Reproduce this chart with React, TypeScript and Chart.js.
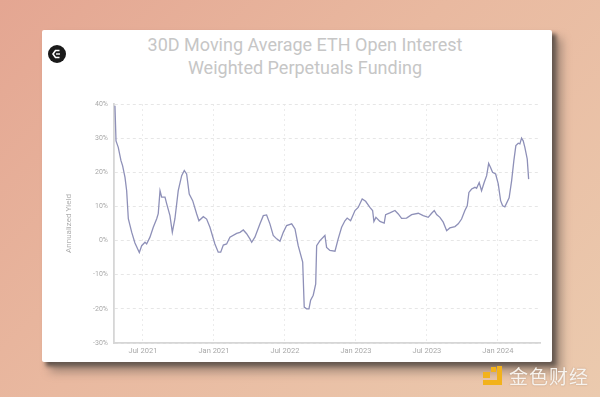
import React, { useEffect, useRef } from "react";
import { Chart, registerables } from "chart.js";

Chart.register(...registerables);

// months since Jan 2021 (decimal)
const months = [3.63, 3.72, 3.91, 4.14, 4.28, 4.48, 4.62, 4.76, 5.05, 5.32, 5.69, 5.89, 6.17, 6.31, 6.59, 6.87, 7.16, 7.29, 7.44, 7.58, 7.86, 8.0, 8.28, 8.48, 8.7, 8.98, 9.27, 9.49, 9.69, 9.91, 10.2, 10.54, 10.73, 11.1, 11.38, 11.66, 12.08, 12.36, 12.57, 12.79, 13.07, 13.35, 13.92, 14.2, 14.48, 14.76, 15.04, 15.19, 15.46, 15.89, 16.17, 16.45, 16.73, 17.01, 17.3, 17.58, 17.86, 18.14, 18.57, 18.85, 19.12, 19.5, 19.63, 19.83, 20.03, 20.17, 20.39, 20.6, 20.68, 20.96, 21.38, 21.52, 21.8, 22.23, 22.5, 22.79, 23.07, 23.26, 23.55, 23.92, 24.19, 24.53, 24.82, 25.18, 25.41, 25.52, 25.69, 26.03, 26.39, 26.51, 26.87, 27.3, 27.58, 27.86, 28.28, 28.71, 29.27, 29.69, 30.11, 30.4, 30.62, 30.82, 31.1, 31.38, 31.67, 31.94, 32.37, 32.65, 32.93, 33.21, 33.41, 33.55, 33.78, 34.06, 34.2, 34.42, 34.62, 34.84, 35.05, 35.22, 35.38, 35.55, 35.81, 36.03, 36.23, 36.4, 36.59, 36.95, 37.16, 37.35, 37.52, 37.72, 37.86, 38.0, 38.14, 38.28, 38.48, 38.6];

const funding = [39.5, 29.2, 27.3, 23.4, 21.9, 18.5, 14.6, 6.4, 2.4, -0.7, -3.5, -1.5, -0.5, -1.0, 1.0, 3.9, 6.4, 7.9, 14.6, 12.7, 12.7, 10.8, 7.3, 2.4, 6.4, 14.6, 19.0, 20.5, 19.5, 13.6, 11.7, 7.8, 5.8, 7.0, 6.3, 3.9, -1.0, -3.4, -3.4, -1.3, -1.0, 1.0, 2.1, 2.4, 3.1, 2.0, 0.5, -0.5, 1.0, 4.9, 7.3, 7.5, 4.9, 1.5, 0.5, -0.2, 2.4, 4.4, 4.9, 3.4, -1.5, -6.3, -19.5, -20.0, -20.0, -17.5, -16.0, -12.7, -1.5, 0.0, 1.5, -2.0, -2.9, -3.1, 0.5, 3.9, 5.8, 6.6, 5.8, 8.8, 9.7, 12.2, 11.5, 9.7, 8.8, 5.6, 6.8, 5.6, 5.1, 7.6, 8.1, 8.8, 7.8, 6.5, 6.6, 7.6, 8.0, 7.3, 6.8, 8.0, 8.8, 7.6, 6.8, 5.4, 2.9, 3.7, 4.1, 4.9, 6.3, 8.8, 10.2, 14.1, 15.1, 15.6, 15.3, 17.0, 14.6, 17.0, 19.0, 22.6, 21.4, 20.0, 19.5, 16.6, 11.7, 10.2, 9.9, 12.5, 17.5, 23.4, 27.8, 28.5, 28.3, 30.0, 29.2, 27.3, 23.9, 18.0];

const xTickMonths = [6, 12, 18, 24, 30, 36];
const xTickLabels = ["Jul 2021", "Jan 2021", "Jul 2022", "Jan 2023", "Jul 2023", "Jan 2024"];
const yTicks = [-30, -20, -10, 0, 10, 20, 30, 40];

const titleLines = ["30D Moving Average ETH Open Interest", "Weighted Perpetuals Funding"];
const yAxisTitle = "Annualized Yield";
const watermark = "金色财经";

export default function App() {
  const ref = useRef<HTMLCanvasElement | null>(null);

  useEffect(() => {
    if (!ref.current) return;
    const chart = new Chart(ref.current, {
      type: "line",
      data: {
        datasets: [
          {
            data: months.map((m, i) => ({ x: m, y: funding[i] })),
            borderColor: "#8e90b8",
            borderWidth: 1.3,
            pointRadius: 0,
            tension: 0,
            fill: false,
          },
        ],
      },
      options: {
        animation: false,
        responsive: false,
        devicePixelRatio: 1,
        layout: { padding: { left: 58, right: 60, top: 104, bottom: 34 } },
        plugins: { legend: { display: false }, tooltip: { enabled: false } },
        scales: {
          x: {
            type: "linear",
            min: 3.55,
            max: 39.56,
            afterBuildTicks: (scale: any) => {
              scale.ticks = xTickMonths.map((v) => ({ value: v }));
            },
            afterFit: (scale: any) => {
              scale.height = 20;
            },
            ticks: {
              autoSkip: false,
              maxRotation: 0,
              padding: 4,
              color: "#a9a9a9",
              font: { family: "Roboto", size: 7.5 },
              callback: (_v: any, i: number) => xTickLabels[i],
            },
            grid: { color: "#ececec", lineWidth: 1, drawTicks: false },
            border: { display: true, color: "#d6d6d6", width: 1.8, dash: [2, 3] },
          },
          y: {
            min: -30,
            max: 40,
            afterBuildTicks: (scale: any) => {
              scale.ticks = yTicks.map((v) => ({ value: v }));
            },
            afterFit: (scale: any) => {
              scale.width = 56;
            },
            ticks: {
              padding: 6,
              color: "#a9a9a9",
              font: { family: "Roboto", size: 7 },
              callback: (v: any) => v + "%",
            },
            title: {
              display: true,
              text: yAxisTitle,
              color: "#b0b0b0",
              padding: { top: 6, bottom: 0 },
              font: { family: "Roboto", size: 8 },
            },
            grid: { color: "#e6e6e6", lineWidth: 1, drawTicks: false },
            border: { display: true, color: "#d6d6d6", width: 1.8, dash: [3, 3] },
          },
        },
      },
    });
    return () => chart.destroy();
  }, []);

  return (
    <div
      style={{
        position: "fixed",
        left: 0,
        top: 0,
        width: 600,
        height: 397,
        overflow: "hidden",
        background: "linear-gradient(135deg, #e4a692 0%, #e9b9a0 45%, #ebcaae 100%)",
        fontFamily: "Roboto, sans-serif",
      }}
    >
      <div
        style={{
          position: "absolute",
          left: 46,
          top: 34,
          width: 510,
          height: 332,
          background: "#5a4d45",
          filter: "blur(2px)",
        }}
      />
      <div
        style={{
          position: "absolute",
          left: 50,
          top: 38,
          width: 512,
          height: 334,
          background: "rgba(110,95,85,0.55)",
          filter: "blur(5px)",
        }}
      />
      <div
        style={{
          position: "absolute",
          left: 42,
          top: 30,
          width: 510,
          height: 332,
          background: "#ffffff",
          borderRadius: 2,
        }}
      />
      <div
        style={{
          position: "absolute",
          left: 0,
          top: 33,
          width: 610,
          textAlign: "center",
          color: "#c6c6c6",
          fontSize: 18,
          lineHeight: "23px",
          fontFamily: "Roboto",
        }}
      >
        {titleLines.map((t) => (
          <div key={t}>{t}</div>
        ))}
      </div>
      <div
        style={{
          position: "absolute",
          left: 48,
          top: 45,
          width: 18,
          height: 18,
          borderRadius: 9,
          background: "#1a1a1a",
        }}
      >
        <svg width="18" height="18" viewBox="0 0 18 18">
          <path d="M11.5 5.5 H7.5 L5 9 L7.5 12.5 H11.5" stroke="#fff" strokeWidth="1.6" fill="none" />
          <path d="M8 9 H12" stroke="#fff" strokeWidth="1.4" />
        </svg>
      </div>
      <canvas
        ref={ref}
        width={600}
        height={397}
        style={{ position: "absolute", left: 0, top: 0, width: 600, height: 397 }}
      />
      <div style={{ position: "absolute", left: 483, top: 372, width: 7, height: 6, background: "#f2b21c" }} />
      <div style={{ position: "absolute", left: 491, top: 367, width: 5, height: 5, background: "#f2b21c" }} />
      <div style={{ position: "absolute", left: 497, top: 366, width: 5, height: 19, background: "#f2b21c" }} />
      <div style={{ position: "absolute", left: 483, top: 380, width: 19, height: 5, background: "#f2b21c" }} />
      <div
        style={{
          position: "absolute",
          left: 509,
          top: 364,
          fontSize: 19,
          lineHeight: "24px",
          color: "#f7f3ee",
          fontFamily: "'Noto Sans CJK SC'",
          letterSpacing: 1,
          textShadow: "0 0 2px rgba(120,90,70,0.4)",
        }}
      >
        {watermark}
      </div>
    </div>
  );
}
